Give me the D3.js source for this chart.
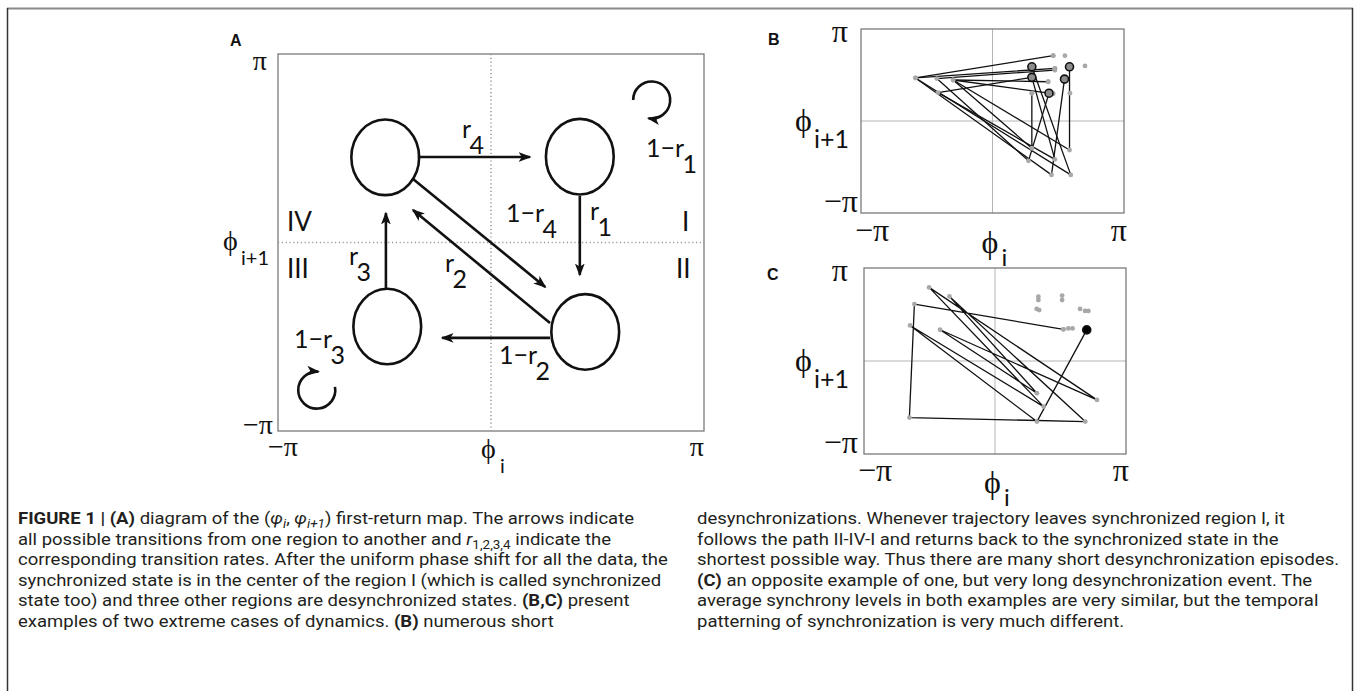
<!DOCTYPE html>
<html><head><meta charset="utf-8">
<script src="https://cdn.jsdelivr.net/npm/d3@7"></script>
<style>body{margin:0;background:#fff}svg{display:block}</style>
</head><body>
<script>
const PI = Math.PI;

// ---------- Panel A: region diagram (radians) ----------
const regionNames = ["I", "II", "III", "IV"];
const regionX = [1.31, 1.39, -1.53, -1.56];
const regionY = [1.43, -1.49, -1.40, 1.42];
const regionRx = 0.50, regionRy = 0.63;
// transition arrows: start / end (radians)
const arrowNames = ["r4", "r1", "IV-II", "II-IV", "1-r2", "r3"];
const arrowX1 = [-1.08, 1.31, -1.15, 0.87, 0.87, -1.55];
const arrowY1 = [1.425, 0.775, 1.06, -1.34, -1.59, -0.76];
const arrowX2 = [0.575, 1.31, 0.80, -1.15, -0.72, -1.55];
const arrowY2 = [1.425, -0.54, -0.74, 0.54, -1.59, 0.49];
// self-loops (centre in radians)
const loopX = [2.37, -2.57];
const loopY = [2.375, -2.46];
// tick labels
const tickLabels = ["\u2212\u03c0", "\u03c0"];

// ---------- Panel B: many short desynchronizations ----------
// trajectory episodes [phi_i, phi_{i+1}]
const trajB = [
  [[1.84, 1.85], [1.84, -0.99], [-0.94, 1.40], [1.33, 1.34]],
  [[0.94, 1.85], [1.87, -1.84], [-1.84, 1.47], [1.49, 1.80]],
  [[0.94, 1.49], [1.49, -1.31], [-1.30, 0.97], [0.94, 1.49]],
  [[1.72, 1.43], [1.41, -1.84], [-1.84, 1.47], [1.45, 2.23]],
  [[0.94, 0.95], [0.94, -0.93], [-0.94, 1.40], [1.35, 0.95], [0.86, -1.36], [-1.33, 1.45], [1.49, 1.74]]
];
const dotsB = [[1.45, 2.23], [1.73, 2.23], [2.21, 1.88], [1.49, 1.80], [1.49, 1.74], [1.33, 1.34],
  [0.94, 0.95], [1.45, 0.93], [1.85, 0.95], [1.84, 1.85], [1.72, 1.43]];
const startsB = [[1.84, 1.85], [0.94, 1.85], [0.94, 1.49], [1.72, 1.43], [1.35, 0.95]];

// ---------- Panel C: one long desynchronization ----------
const trajC = [[2.20, 1.05], [1.005, -2.047], [-2.037, 1.201], [1.165, -1.540], [-1.581, 2.487],
  [2.445, -1.314], [-1.317, 1.055], [1.005, -1.088], [-1.093, 2.183], [2.165, -2.047],
  [-2.053, -1.912], [-1.933, 1.923], [1.64, 1.07]];
const dotsC = [[1.04, 2.17], [1.04, 2.06], [1.61, 2.21], [1.61, 2.06], [1.00, 1.76], [1.06, 1.72],
  [2.04, 1.76], [2.16, 1.69], [2.24, 1.69], [1.64, 1.07], [1.76, 1.10], [1.86, 1.10]];
const startC = [2.20, 1.05];

// ---------- caption ----------
const captionLeft = [
  [["FIGURE 1 | (A)", "b"], [" diagram of the (", ""], ["\u03c6", "i"], ["i", "isub"], [", ", ""], ["\u03c6", "i"], ["i+1", "isub"], [") first-return map. The arrows indicate", ""]],
  [["all possible transitions from one region to another and ", ""], ["r", "i"], ["1,2,3,4", "sub"], [" indicate the", ""]],
  [["corresponding transition rates. After the uniform phase shift for all the data, the", ""]],
  [["synchronized state is in the center of the region I (which is called synchronized", ""]],
  [["state too) and three other regions are desynchronized states. ", ""], ["(B,C)", "b"], [" present", ""]],
  [["examples of two extreme cases of dynamics. ", ""], ["(B)", "b"], [" numerous short", ""]]
];
const captionRight = [
  [["desynchronizations. Whenever trajectory leaves synchronized region I, it", ""]],
  [["follows the path II-IV-I and returns back to the synchronized state in the", ""]],
  [["shortest possible way. Thus there are many short desynchronization episodes.", ""]],
  [["(C)", "b"], [" an opposite example of one, but very long desynchronization event. The", ""]],
  [["average synchrony levels in both examples are very similar, but the temporal", ""]],
  [["patterning of synchronization is very much different.", ""]]
];
const captionLeftEnds = [656, 546, 659, 663, 565, 476];
const captionRightEnds = [1291, 1280, 1339, 1317, 1324, 1122];

// =====================================================
const W = 1356, H = 691;
const svg = d3.select("body").append("svg").attr("width", W).attr("height", H);
svg.append("rect").attr("width", W).attr("height", H).attr("fill", "#fff");

// outer figure frame
svg.append("line").attr("x1", 7).attr("x2", 1353).attr("y1", 8.5).attr("y2", 8.5).attr("stroke", "#8a8a8a").attr("stroke-width", 2);
svg.append("line").attr("x1", 7.5).attr("x2", 7.5).attr("y1", 8).attr("y2", H).attr("stroke", "#333").attr("stroke-width", 1.5);
svg.append("line").attr("x1", 1352.5).attr("x2", 1352.5).attr("y1", 8).attr("y2", H).attr("stroke", "#333").attr("stroke-width", 1.5);

const serif = "'Liberation Serif', 'DejaVu Serif', serif";
const sans = "Lato, 'Open Sans', sans-serif";
const ink = "#111";

svg.append("defs").append("marker")
  .attr("id", "ah").attr("viewBox", "0 0 12 10").attr("refX", 10.5).attr("refY", 5)
  .attr("markerWidth", 13).attr("markerHeight", 11).attr("markerUnits", "userSpaceOnUse")
  .attr("orient", "auto")
  .append("path").attr("d", "M0,0.5 L12,5 L0,9.5 L3,5 Z").attr("fill", ink);

function panelFrame(g, x, y) {
  const [x0, x1] = x.range(), [y0, y1] = y.range();
  g.append("rect").attr("x", x0).attr("y", y1).attr("width", x1 - x0).attr("height", y0 - y1)
    .attr("fill", "none").attr("stroke", "#7a7a7a").attr("stroke-width", 1.3);
}

function txt(g, x, y, s, size, fam, anchor) {
  return g.append("text").attr("x", x).attr("y", y).attr("text-anchor", anchor || "start")
    .attr("font-family", fam).attr("font-size", size).attr("fill", ink).text(s);
}

function phiLabel(g, x, y, size, sub, subX, subY, subSize) {
  txt(g, x, y, "\u03d5", size, serif);
  txt(g, subX, subY, sub, subSize, sans);
}

// ---------------- Panel A ----------------
{
  const x = d3.scaleLinear().domain([-PI, PI]).range([278, 704]);
  const y = d3.scaleLinear().domain([-PI, PI]).range([431, 54]);
  const g = svg.append("g");
  panelFrame(g, x, y);
  g.append("line").attr("x1", x(0)).attr("x2", x(0)).attr("y1", y(PI)).attr("y2", y(-PI))
    .attr("stroke", "#999").attr("stroke-width", 1.6).attr("stroke-dasharray", "1.2,2.6");
  g.append("line").attr("x1", x(-PI)).attr("x2", x(PI)).attr("y1", y(0)).attr("y2", y(0))
    .attr("stroke", "#999").attr("stroke-width", 1.6).attr("stroke-dasharray", "1.2,2.6");

  g.selectAll("ellipse.reg").data(regionNames).join("ellipse").attr("class", "reg")
    .attr("cx", (d, i) => x(regionX[i])).attr("cy", (d, i) => y(regionY[i]))
    .attr("rx", x(regionRx) - x(0)).attr("ry", y(0) - y(regionRy))
    .attr("fill", "#fff").attr("stroke", ink).attr("stroke-width", 2.6);

  g.selectAll("line.arr").data(arrowNames).join("line").attr("class", "arr")
    .attr("x1", (d, i) => x(arrowX1[i])).attr("y1", (d, i) => y(arrowY1[i]))
    .attr("x2", (d, i) => x(arrowX2[i])).attr("y2", (d, i) => y(arrowY2[i]))
    .attr("stroke", ink).attr("stroke-width", 2.6).attr("marker-end", "url(#ah)");

  const loopArcs = [[PI, PI + 280 * PI / 180], [-10 * PI / 180, 275 * PI / 180]];
  loopX.forEach((lx, i) => {
    const p = d3.path();
    const cx = x(lx), cy = y(loopY[i]), r = 18.5;
    const [a0, a1] = loopArcs[i];
    p.moveTo(cx + r * Math.cos(a0), cy + r * Math.sin(a0));
    p.arc(cx, cy, r, a0, a1, false);
    g.append("path").attr("d", p.toString()).attr("fill", "none").attr("stroke", ink)
      .attr("stroke-width", 2.6).attr("marker-end", "url(#ah)");
  });

  // rate labels
  const fs = 25;
  function rate(px, py, main, sub) {
    const t = g.append("text").attr("x", px).attr("y", py).attr("font-family", sans)
      .attr("font-size", fs).attr("fill", ink);
    t.append("tspan").text(main);
    t.append("tspan").attr("dx", -1.5).attr("dy", 15.5).text(sub);
  }
  rate(462, 138, "r", "4");
  rate(646, 157, "1\u2212r", "1");
  rate(506, 222, "1\u2212r", "4");
  rate(590, 220, "r", "1");
  rate(349, 265, "r", "3");
  rate(445, 272, "r", "2");
  rate(294, 348, "1\u2212r", "3");
  rate(499, 364, "1\u2212r", "2");
  txt(g, 287, 231, "IV", 26, sans);
  txt(g, 682, 231, "I", 26, sans);
  txt(g, 287, 278, "III", 26, sans);
  txt(g, 676, 278, "II", 26, sans);

  // axes labels
  txt(g, 267, 70, tickLabels[1], 28, serif, "end");
  txt(g, 273, 434, tickLabels[0], 28, serif, "end");
  txt(g, 268, 456, tickLabels[0], 28, serif);
  txt(g, 704, 456, tickLabels[1], 28, serif, "end");
  phiLabel(g, 223, 250, 28, "i+1", 241, 265, 20);
  phiLabel(g, 481, 458, 28, "i", 500, 473, 20);
  g.append("text").attr("x", 230).attr("y", 46).attr("font-family", "'Liberation Sans', Arial, sans-serif")
    .attr("font-weight", "bold").attr("font-size", 16).attr("fill", ink).text("A");
}

// ---------------- Panels B and C ----------------
function returnPanel(letter, xr, yr, lab, trajs, dots, starts, blackStart) {
  const x = d3.scaleLinear().domain([-PI, PI]).range(xr);
  const y = d3.scaleLinear().domain([-PI, PI]).range(yr);
  const g = svg.append("g");
  g.append("line").attr("x1", x(0)).attr("x2", x(0)).attr("y1", y(PI)).attr("y2", y(-PI))
    .attr("stroke", "#b5b5b5").attr("stroke-width", 1);
  g.append("line").attr("x1", x(-PI)).attr("x2", x(PI)).attr("y1", y(0)).attr("y2", y(0))
    .attr("stroke", "#b5b5b5").attr("stroke-width", 1);
  panelFrame(g, x, y);
  const line = d3.line().x(d => x(d[0])).y(d => y(d[1]));
  g.selectAll("path.traj").data(trajs).join("path").attr("class", "traj")
    .attr("d", line).attr("fill", "none").attr("stroke", "#111").attr("stroke-width", 1.3)
    .attr("stroke-linejoin", "round");
  const allPts = trajs.flat().concat(dots);
  g.selectAll("circle.dot").data(allPts).join("circle").attr("class", "dot")
    .attr("cx", d => x(d[0])).attr("cy", d => y(d[1])).attr("r", 2.4).attr("fill", "#a8a8a8");
  g.selectAll("circle.start").data(starts).join("circle").attr("class", "start")
    .attr("cx", d => x(d[0])).attr("cy", d => y(d[1])).attr("r", 4)
    .attr("fill", blackStart ? "#000" : "#8c8c8c").attr("stroke", "#111").attr("stroke-width", 1.6);

  const [x0, x1] = xr, [y0, y1] = yr;
  txt(g, lab.letterX, lab.letterY, letter, 16, "'Liberation Sans', Arial, sans-serif").attr("font-weight", "bold");
  txt(g, 848, y1 + 13, tickLabels[1], 32, serif, "end");
  txt(g, 858, y0 - 1, tickLabels[0], 32, serif, "end");
  txt(g, x0 - 6, y0 + lab.xDrop, tickLabels[0], 32, serif);
  txt(g, x1 + 3, y0 + lab.xDrop, tickLabels[1], 32, serif, "end");
  phiLabel(g, 795, y(0) + 10, 32, "i+1", 814, y(0) + 27, 25);
  phiLabel(g, x(0) - 11, y0 + lab.xDrop + 12, 32, "i", x(0) + 9, y0 + lab.xDrop + 25, 24);
}
returnPanel("B", [861, 1124], [213, 29], {letterX: 768, letterY: 45, xDrop: 28}, trajB, dotsB, startsB, false);
returnPanel("C", [864, 1126], [454, 268], {letterX: 767, letterY: 280, xDrop: 27}, [trajC], dotsC, [startC], true);

// ---------------- caption ----------------
const capNodes = [];
function captionLine(x0, y0, segs, xEnd) {
  const g = svg.append("g").attr("transform", `translate(${x0},${y0})`);
  const t = g.append("text").attr("x", 0).attr("y", 0).attr("font-family", "Roboto, 'Liberation Sans', sans-serif")
    .attr("font-size", 16.5).attr("fill", "#231f20");
  let shifted = false;
  segs.forEach(([s, st]) => {
    const sp = t.append("tspan").text(s);
    const isSub = st === "sub" || st === "isub";
    if (isSub && !shifted) { sp.attr("dy", 4); shifted = true; }
    else if (!isSub && shifted) { sp.attr("dy", -4); shifted = false; }
    if (isSub) sp.attr("font-size", 12);
    if (st === "b") sp.attr("font-weight", "bold");
    if (st === "i" || st === "isub") sp.attr("font-style", "italic");
  });
  const w = t.node().getComputedTextLength();
  capNodes.push({t, k: (xEnd - x0) / w});
}
const lineYs = [524, 545, 565, 586, 606, 627];
captionLeft.forEach((segs, i) => captionLine(18, lineYs[i], segs, captionLeftEnds[i]));
captionRight.forEach((segs, i) => captionLine(697, lineYs[i], segs, captionRightEnds[i]));
const kMed = d3.median(capNodes, d => d.k);
capNodes.forEach(d => d.t.attr("transform", `scale(${kMed},1)`));
</script>
</body></html>
